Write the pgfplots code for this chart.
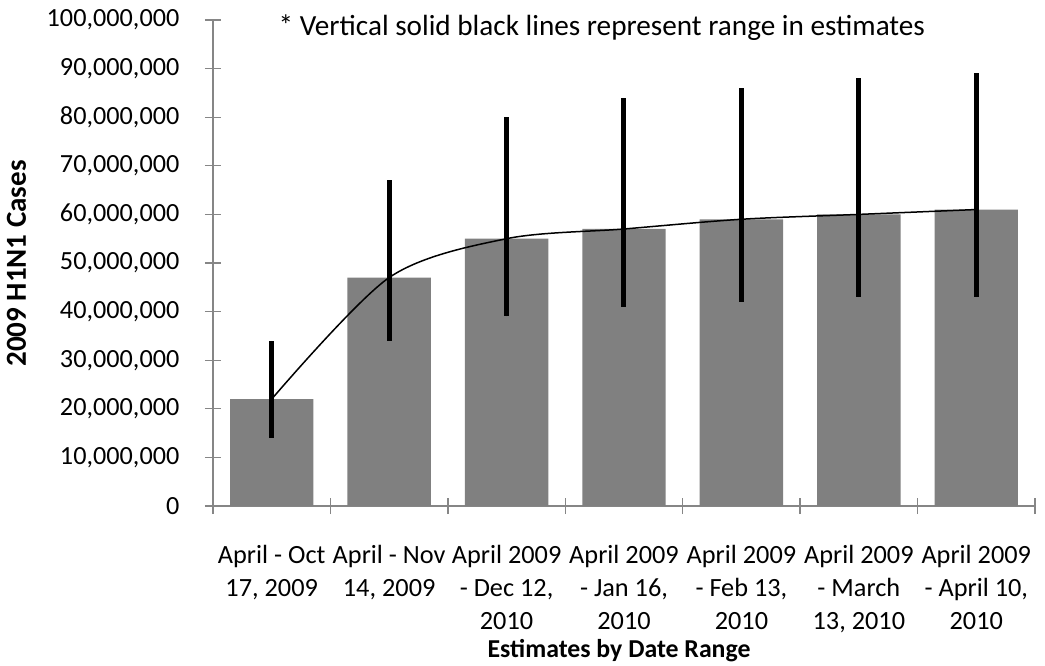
\documentclass[border=0pt]{standalone}
\usepackage{pgfplots}
\pgfplotsset{compat=1.18}
\usepackage{fontspec}
\setmainfont{Carlito}
\definecolor{bargray}{HTML}{808080}
\definecolor{axgray}{HTML}{868686}
\begin{document}
\begin{tikzpicture}[font=\fontsize{26}{33}\selectfont]
\begin{axis}[
  at={(213pt,159pt)}, anchor=south west,
  scale only axis, width=822pt, height=486pt,
  xmin=-0.5, xmax=6.5, ymin=0, ymax=100000000,
  axis lines*=left,
  axis line style={axgray, line width=1.3pt},
  xtick={0,1,2,3,4,5,6},
  xticklabels={{April - Oct\\17, 2009},{April - Nov\\14, 2009},{April 2009\\- Dec 12,\\2010},{April 2009\\- Jan 16,\\2010},{April 2009\\- Feb 13,\\2010},{April 2009\\- March\\13, 2010},{April 2009\\- April 10,\\2010}},
  xticklabel style={align=center, anchor=north, inner sep=0pt, yshift=-31pt, font=\fontsize{26.3}{33}\selectfont},
  minor xtick={-0.5,0.5,1.5,2.5,3.5,4.5,5.5,6.5},
  major x tick style={draw=none},
  major tick length=16pt, minor tick length=16pt,
  tick align=center,
  tick style={axgray, line width=1.3pt},
  ytick={0,10000000,20000000,30000000,40000000,50000000,60000000,70000000,80000000,90000000,100000000},
  scaled y ticks=false,
  /pgf/number format/fixed,
  /pgf/number format/precision=0,
  /pgf/number format/1000 sep={,},
  /pgf/number format/assume math mode=true,
  yticklabel={\fontsize{26.2}{30}\selectfont\pgfmathprintnumber{\tick}},
  yticklabel style={anchor=east, inner sep=0pt, xshift=-25.5pt, font=\fontsize{26.2}{30}\selectfont},
  xlabel={\textbf{Estimates by Date Range}},
  ylabel={\textbf{2009 H1N1 Cases}},
  every axis x label/.style={at={(axis description cs:0.494,-0.3107)}, anchor=base, inner sep=0pt, font=\fontsize{25.8}{30}\selectfont},
  every axis y label/.style={at={(axis description cs:-0.239,0.499)}, rotate=90, anchor=center, inner sep=0pt, font=\fontsize{29}{32}\selectfont},
  clip=false,
]
\addplot[ybar, bar width=0.71, fill=bargray, draw=none,
  error bars/.cd, y dir=both, y explicit, error mark=none,
  error bar style={black, line width=5pt}]
  coordinates {
  (0,22000000) += (0,12000000) -= (0,8000000)
  (1,47000000) += (0,20000000) -= (0,13000000)
  (2,55000000) += (0,25000000) -= (0,16000000)
  (3,57000000) += (0,27000000) -= (0,16000000)
  (4,59000000) += (0,27000000) -= (0,17000000)
  (5,60000000) += (0,28000000) -= (0,17000000)
  (6,61000000) += (0,28000000) -= (0,18000000)
  };
\addplot[black, line width=1.5pt, smooth, mark=none]
  coordinates {(0,22000000) (1,47000000) (2,55000000) (3,57000000) (4,59000000) (5,60000000) (6,61000000)};
\node[anchor=base, inner sep=0pt, font=\fontsize{29.2}{34}\selectfont] at (rel axis cs:0.473,0.969) {* Vertical solid black lines represent range in estimates};
\end{axis}
\pgfresetboundingbox
\path[use as bounding box] (0,0) rectangle (1045pt,665pt);
\end{tikzpicture}
\end{document}
